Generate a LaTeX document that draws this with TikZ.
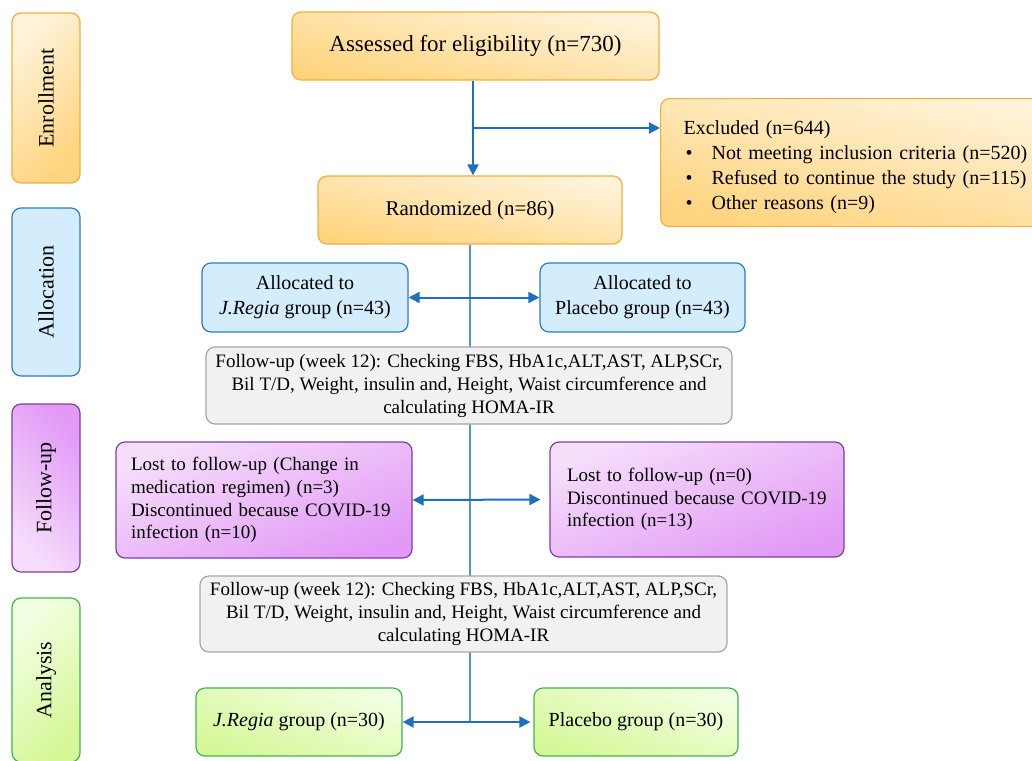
\documentclass[tikz,border=0pt]{standalone}
\usepackage{fontspec}
\setmainfont{Liberation Serif}
\usetikzlibrary{arrows.meta,backgrounds}
\definecolor{arrowblue}{HTML}{1F6FC0}
\definecolor{stemblue}{HTML}{5096D6}
\definecolor{orangeline}{HTML}{F2AE3D}
\definecolor{orangelight}{HTML}{FFF3DA}
\definecolor{orangedark}{HTML}{FFD47E}
\definecolor{blueline}{HTML}{2E7BC4}
\definecolor{bluefill}{HTML}{D4EDFC}
\definecolor{purpleline}{HTML}{7D3FA8}
\definecolor{purplelight}{HTML}{F6DEFB}
\definecolor{purpledark}{HTML}{E29AF6}
\definecolor{grayline}{HTML}{A6A6A6}
\definecolor{grayfill}{HTML}{F1F1F1}
\definecolor{greenline}{HTML}{3EB54E}
\definecolor{greenlight}{HTML}{F3FFE2}
\definecolor{greendark}{HTML}{D6F798}
\begin{document}
\begin{tikzpicture}
	[x=1pt,y=-1pt,
	box/.style={draw,rounded corners=9pt,line width=1.2pt,align=center,inner sep=0pt,
		font=\fontsize{20}{25}\selectfont},
	sidenode/.style={box,minimum width=68pt,font=\fontsize{22}{26}\selectfont},
	orangenode/.style={box,draw=orangeline,top color=orangelight,bottom color=orangedark,shading angle=-12},
	bluenode/.style={box,draw=blueline,fill=bluefill},
	purplenode/.style={box,draw=purpleline,top color=purplelight,bottom color=purpledark,shading angle=22,
		font=\fontsize{19}{22.7}\selectfont},
	graynode/.style={box,draw=grayline,fill=grayfill,font=\fontsize{19}{23}\selectfont},
	greennode/.style={box,draw=greenline,top color=greenlight,bottom color=greendark,shading angle=-20},
	arr/.style={draw=arrowblue,line width=2pt},
	>={Triangle[length=11pt,width=11pt]}]
	\useasboundingbox (0,0) rectangle (1032,760);
	% stages on the left
	\node[sidenode,draw=orangeline,top color=orangelight,bottom color=orangedark,shading angle=45,
		minimum height=170pt,name=enrol] at (46,98) {\rotatebox{90}{Enrollment}};
	\node[sidenode,draw=blueline,fill=bluefill,minimum height=168pt,name=alloc] at (46,292) {\rotatebox{90}{Allocation}};
	\node[sidenode,draw=purpleline,top color=purpledark,bottom color=purplelight,shading angle=-45,
		minimum height=168pt,name=follow] at (46,488) {\rotatebox{90}{Follow-up}};
	\node[sidenode,draw=greenline,top color=greenlight,bottom color=greendark,shading angle=45,
		minimum height=164pt,name=analys] at (46,680) {\rotatebox{90}{Analysis}};
	% enrollment
	\node[orangenode,minimum width=367pt,minimum height=68pt,name=assessed,font=\fontsize{23}{27}\selectfont]
		at (475.5,46) {Assessed for eligibility (n=730)};
	\node[orangenode,minimum width=304pt,minimum height=68pt,name=rand,font=\fontsize{21}{25}\selectfont]
		at (470,210) {Randomized (n=86)};
	\node[orangenode,anchor=north west,minimum width=406pt,minimum height=128pt,text width=360pt,
		inner xsep=23pt,align=left,name=excl] at (660,98)
		{\rule{0pt}{24pt}Excluded (n=644)\\
		\hspace*{2pt}\makebox[26pt][l]{\textbullet}Not meeting inclusion criteria (n=520)\\
		\hspace*{2pt}\makebox[26pt][l]{\textbullet}Refused to continue the study (n=115)\\
		\hspace*{2pt}\makebox[26pt][l]{\textbullet}Other reasons (n=9)};
	% allocation
	\node[bluenode,minimum width=206pt,minimum height=69pt,name=aj] at (305,297.5)
		{Allocated to\\\textit{J.Regia} group (n=43)};
	\node[bluenode,minimum width=205pt,minimum height=69pt,name=ap] at (642.5,297.5)
		{Allocated to\\Placebo group (n=43)};
	\node[graynode,minimum width=526pt,minimum height=77pt,name=fu1] at (469,385.5)
		{Follow-up (week 12): Checking FBS, HbA1c,ALT,AST, ALP,SCr,\\
		Bil T/D, Weight, insulin and, Height, Waist circumference and\\
		calculating HOMA-IR};
	% follow-up
	\node[purplenode,minimum width=296pt,minimum height=116pt,text width=266pt,align=left,
		inner xsep=15pt,name=lostl] at (264,500)
		{Lost to follow-up (Change in\\medication regimen) (n=3)\\
		Discontinued because COVID-19\\infection (n=10)};
	\node[purplenode,minimum width=294pt,minimum height=115pt,text width=260pt,align=left,
		inner xsep=17pt,name=lostr] at (697,499.5)
		{Lost to follow-up (n=0)\\Discontinued because COVID-19\\infection (n=13)};
	\node[graynode,minimum width=527pt,minimum height=76pt,name=fu2] at (463.5,614)
		{Follow-up (week 12): Checking FBS, HbA1c,ALT,AST, ALP,SCr,\\
		Bil T/D, Weight, insulin and, Height, Waist circumference and\\
		calculating HOMA-IR};
	% analysis
	\node[greennode,minimum width=206pt,minimum height=68pt,name=gj] at (299,722)
		{\textit{J.Regia} group (n=30)};
	\node[greennode,minimum width=204pt,minimum height=68pt,name=gp] at (636,722)
		{Placebo group (n=30)};
	\coordinate (split) at (473,128);
	\coordinate (stemend) at (470,721);
	\draw[arr,->] (assessed.south -| split) -- (rand.north -| split);
	\draw[arr,->] (split) -- (split -| excl.west);
	\begin{scope}[on background layer]
		\draw[stemblue,line width=1.5pt] (rand.south) -- (stemend);
	\end{scope}
	\draw[arr,<->] (aj.east) -- (ap.west);
	\draw[arr,<->,shorten >=9pt] (lostl.east) -- (lostr.west);
	\draw[arr,<->,shorten >=3pt] (gj.east) -- (gp.west);
\end{tikzpicture}
\end{document}
